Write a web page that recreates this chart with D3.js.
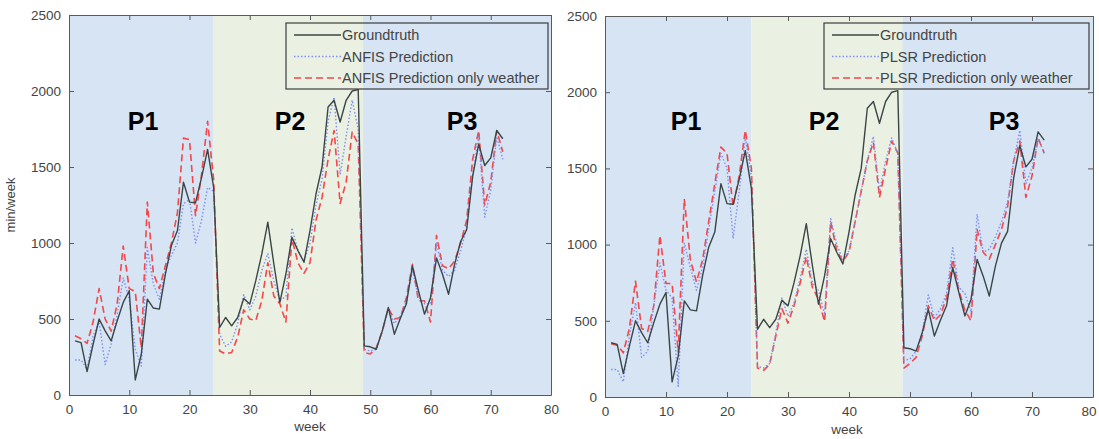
<!DOCTYPE html>
<html>
<head>
<meta charset="utf-8">
<script src="https://cdn.jsdelivr.net/npm/d3@7"></script>
<style>
  html, body { margin: 0; padding: 0; background: #ffffff; }
  svg { display: block; }
  text { font-family: "Liberation Sans", Arial, sans-serif; }
</style>
</head>
<body>
<svg id="chart" width="1099" height="439"></svg>
<script>
// ---------------- data ----------------
const weeks = d3.range(1, 73);
const xTicks = [0, 10, 20, 30, 40, 50, 60, 70, 80];
const yTicks = [0, 500, 1000, 1500, 2000, 2500];
const periodBounds = [0, 24, 48.8, 80];
const periodNames = ["P1", "P2", "P3"];

const groundtruth = [356, 345, 154, 334, 500, 422, 356, 488, 609, 686, 99, 268, 631, 572, 565, 796, 983, 1082, 1400, 1269,
  1265, 1430, 1616, 1368, 444, 510, 455, 510, 635, 598, 752, 928, 1137, 862, 609, 796, 1038, 950, 873, 1082,
  1324, 1500, 1895, 1939, 1796, 1939, 2000, 2010, 323, 317, 301, 422, 576, 400, 505, 600, 850, 686, 532, 640,
  902, 793, 663, 859, 1010, 1087, 1440, 1650, 1510, 1560, 1740, 1686];

const anfis = [230, 230, 170, 390, 480, 200, 335, 530, 770, 630, 300, 190, 970, 730, 630, 820, 920, 1000, 1260, 1285,
  1000, 1150, 1365, 1340, 400, 320, 350, 470, 660, 560, 650, 820, 930, 750, 620, 650, 1100, 950, 880, 1000,
  1250, 1420, 1800, 1960, 1450, 1700, 1940, 1750, 300, 290, 300, 420, 560, 470, 520, 620, 820, 650, 600, 600,
  1000, 820, 780, 820, 950, 1100, 1450, 1700, 1170, 1350, 1700, 1550];

const anfisWeather = [390, 370, 340, 480, 700, 500, 420, 600, 980, 700, 680, 310, 1270, 800, 700, 850, 1000, 1200, 1690, 1680,
  1180, 1450, 1800, 1420, 290, 270, 280, 380, 560, 500, 490, 620, 870, 650, 600, 480, 1030, 870, 800, 870,
  1150, 1300, 1550, 1740, 1260, 1400, 1730, 1650, 280, 270, 310, 420, 570, 500, 510, 640, 860, 620, 620, 480,
  1050, 850, 830, 880, 1000, 1150, 1550, 1740, 1250, 1400, 1740, 1600];

const plsr = [180, 180, 100, 400, 620, 260, 300, 600, 880, 700, 650, 70, 1010, 850, 700, 850, 1100, 1350, 1600, 1500,
  1040, 1350, 1700, 1450, 200, 190, 220, 420, 650, 530, 620, 780, 970, 750, 700, 540, 1170, 1000, 900, 960,
  1150, 1350, 1550, 1710, 1350, 1550, 1700, 1600, 240, 250, 300, 420, 670, 520, 580, 680, 980, 720, 680, 560,
  1200, 950, 970, 1050, 1150, 1280, 1550, 1750, 1400, 1500, 1700, 1600];

const plsrWeather = [350, 340, 290, 450, 760, 450, 430, 600, 1060, 745, 745, 295, 1300, 900, 755, 900, 1150, 1400, 1640, 1600,
  1250, 1450, 1750, 1500, 190, 175, 215, 400, 580, 485, 600, 750, 920, 720, 640, 495, 1150, 960, 890, 950,
  1150, 1350, 1550, 1670, 1310, 1500, 1680, 1600, 190, 220, 260, 400, 600, 500, 540, 650, 905, 700, 570, 500,
  1100, 950, 905, 1000, 1100, 1250, 1550, 1680, 1310, 1450, 1700, 1600];

const legendLeft = ["Groundtruth", "ANFIS Prediction", "ANFIS Prediction only weather"];
const legendRight = ["Groundtruth", "PLSR Prediction", "PLSR Prediction only weather"];

// ---------------- drawing ----------------
const svg = d3.select("#chart");
const bgColors = ["#d6e4f4", "#eaf1e3", "#d6e4f4"];
const styles = [
  { stroke: "#3a4646", width: 1.4, dash: null },
  { stroke: "#7f8ff0", width: 1.4, dash: "1.5,2" },
  { stroke: "#f2474b", width: 1.6, dash: "7,4" }
];

function drawChart(cfg) {
  const x = d3.scaleLinear().domain([0, 80]).range([cfg.x0, cfg.x1]);
  const y = d3.scaleLinear().domain([0, 2500]).range([cfg.y0, cfg.y1]);
  const g = svg.append("g");

  // period backgrounds
  for (let i = 0; i < 3; i++) {
    g.append("rect")
      .attr("x", x(periodBounds[i])).attr("y", cfg.y1)
      .attr("width", x(periodBounds[i + 1]) - x(periodBounds[i]))
      .attr("height", cfg.y0 - cfg.y1)
      .attr("fill", bgColors[i]);
  }

  // clip
  const clipId = "clip" + cfg.id;
  svg.append("clipPath").attr("id", clipId).append("rect")
    .attr("x", cfg.x0).attr("y", cfg.y1).attr("width", cfg.x1 - cfg.x0).attr("height", cfg.y0 - cfg.y1);

  const line = d3.line().x((d, i) => x(weeks[i])).y(d => y(d));
  const series = [groundtruth, cfg.pred, cfg.predW];
  const lg = g.append("g").attr("clip-path", `url(#${clipId})`);
  [2, 1, 0].forEach(k => {
    lg.append("path").datum(series[k])
      .attr("d", line).attr("fill", "none")
      .attr("stroke", styles[k].stroke).attr("stroke-width", styles[k].width)
      .attr("stroke-dasharray", styles[k].dash)
      .attr("stroke-linejoin", "round");
  });

  // period labels
  periodNames.forEach((p, i) => {
    g.append("text").attr("x", cfg.pLabelX[i]).attr("y", cfg.pLabelY)
      .attr("text-anchor", "middle").attr("font-size", 25).attr("font-weight", "bold")
      .attr("fill", "#000").text(p);
  });

  // axes (MATLAB style box, ticks inside)
  const fmt = d3.format("d");
  const axB = d3.axisBottom(x).tickValues(xTicks).tickFormat(fmt).tickSize(-5).tickPadding(9).tickSizeOuter(0);
  const axT = d3.axisTop(x).tickValues(xTicks).tickSize(-5).tickFormat("").tickSizeOuter(0);
  const axL = d3.axisLeft(y).tickValues(yTicks).tickFormat(fmt).tickSize(-5).tickPadding(8).tickSizeOuter(0);
  const axR = d3.axisRight(y).tickValues(yTicks).tickSize(-5).tickFormat("").tickSizeOuter(0);
  const styleAxis = sel => {
    sel.select(".domain").attr("stroke", "#5a5a5a");
    sel.selectAll(".tick line").attr("stroke", "#5a5a5a");
    sel.selectAll(".tick text").attr("fill", "#444").attr("font-size", 13.5)
      .attr("font-family", "'Liberation Sans', Arial, sans-serif");
  };
  const bx = g.append("g").attr("transform", `translate(0,${cfg.y0})`).call(axB).call(styleAxis);
  if (cfg.lastTickEnd) {
    bx.selectAll(".tick text").filter(d => d === 80).attr("text-anchor", "end").attr("dx", 3);
  }
  g.append("g").attr("transform", `translate(0,${cfg.y1})`).call(axT).call(styleAxis);
  g.append("g").attr("transform", `translate(${cfg.x0},0)`).call(axL).call(styleAxis);
  g.append("g").attr("transform", `translate(${cfg.x1},0)`).call(axR).call(styleAxis);

  // x label
  g.append("text").attr("x", cfg.xLabelX).attr("y", cfg.xLabelY).attr("text-anchor", "middle")
    .attr("font-size", 13.5).attr("fill", "#444").text("week");
  if (cfg.yLabel) {
    g.append("text").attr("transform", `translate(${cfg.yLabelX},${(cfg.y0 + cfg.y1) / 2}) rotate(-90)`)
      .attr("text-anchor", "middle").attr("font-size", 13).attr("fill", "#444").text(cfg.yLabel);
  }

  // legend
  const L = cfg.legend;
  const lgd = g.append("g");
  const split = x(periodBounds[2]);
  lgd.append("rect").attr("x", L.x).attr("y", L.y).attr("width", Math.max(0, split - L.x)).attr("height", L.h)
    .attr("fill", bgColors[1]);
  lgd.append("rect").attr("x", Math.max(L.x, split)).attr("y", L.y).attr("width", L.x + L.w - Math.max(L.x, split)).attr("height", L.h)
    .attr("fill", bgColors[2]);
  lgd.append("rect").attr("x", L.x).attr("y", L.y).attr("width", L.w).attr("height", L.h)
    .attr("fill", "none").attr("stroke", "#3c3c3c").attr("stroke-width", 1.2);
  cfg.legendText.forEach((t, k) => {
    const yy = L.y + 12 + k * 21.5;
    lgd.append("line").attr("x1", L.x + 8).attr("x2", L.x + 55).attr("y1", yy).attr("y2", yy)
      .attr("stroke", styles[k].stroke).attr("stroke-width", styles[k].width)
      .attr("stroke-dasharray", styles[k].dash);
    lgd.append("text").attr("x", L.x + 56).attr("y", yy + 5).attr("font-size", 14.5)
      .attr("fill", "#444").text(t);
  });
}

drawChart({
  id: "L", x0: 69, x1: 551, y0: 395, y1: 15,
  pred: anfis, predW: anfisWeather,
  pLabelX: [143, 290, 462], pLabelY: 130,
  xLabelX: 310, xLabelY: 431, yLabel: "min/week", yLabelX: 15,
  legend: { x: 286, y: 23, w: 262, h: 66 }, legendText: legendLeft
});

drawChart({
  id: "R", x0: 605, x1: 1093, y0: 397, y1: 16,
  pred: plsr, predW: plsrWeather,
  pLabelX: [686, 824, 1004], pLabelY: 130,
  xLabelX: 847, xLabelY: 434, yLabel: null, lastTickEnd: true,
  legend: { x: 824, y: 23, w: 265, h: 66 }, legendText: legendRight
});
</script>
</body>
</html>
